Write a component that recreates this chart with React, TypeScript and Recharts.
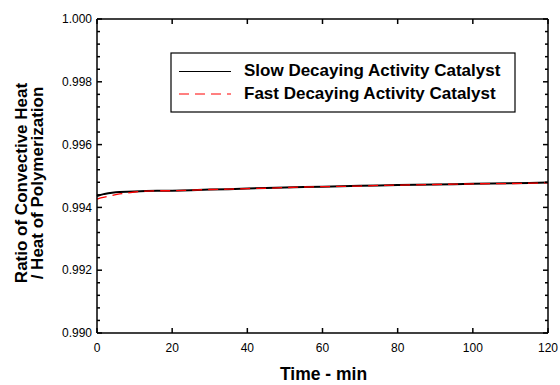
import { LineChart, Line, XAxis, YAxis } from 'recharts'

const times = [0, 1, 2, 3, 4, 5, 6, 8, 10, 13, 16, 20, 25, 30, 35, 40, 45, 50, 55, 60, 65, 70, 75, 80, 85, 90, 95, 100, 105, 110, 115, 120]

const slowDecay = [
  0.99436, 0.99440, 0.99443, 0.99445, 0.99447, 0.99448, 0.99449, 0.99450, 0.99451, 0.99452, 0.99453, 0.99453,
  0.99455, 0.99457, 0.99458, 0.99460, 0.99462, 0.99463, 0.99465, 0.99466, 0.99467, 0.99469, 0.99470, 0.99471,
  0.99472, 0.99473, 0.99474, 0.99475, 0.99476, 0.99477, 0.99478, 0.99479,
]

const fastDecay = [
  0.99426, 0.99430, 0.99433, 0.99436, 0.99438, 0.99441, 0.99443, 0.99446, 0.99449, 0.99452, 0.99453, 0.99453,
  0.99455, 0.99457, 0.99458, 0.99460, 0.99461, 0.99463, 0.99465, 0.99466, 0.99467, 0.99468, 0.99470, 0.99471,
  0.99472, 0.99473, 0.99474, 0.99475, 0.99476, 0.99476, 0.99477, 0.99478,
]

const xTicks = [0, 20, 40, 60, 80, 100, 120]
const yTicks = [0.99, 0.992, 0.994, 0.996, 0.998, 1.0]
const yMinorTicks = [
  0.9904, 0.9908, 0.9912, 0.9916, 0.9924, 0.9928, 0.9932, 0.9936, 0.9944, 0.9948, 0.9952, 0.9956,
  0.9964, 0.9968, 0.9972, 0.9976, 0.9984, 0.9988, 0.9992, 0.9996,
]

const data = times.map((t, i) => ({ time: t, slow: slowDecay[i], fast: fastDecay[i] }))
const allYTicks = [...yTicks, ...yMinorTicks].sort((a, b) => a - b)

// plot box, from the chart margins below
const MARGIN = { top: 19, right: 12, bottom: 0, left: 50 }
const Y_AXIS_W = 47
const X_AXIS_H = 52
const PLOT_LEFT = MARGIN.left + Y_AXIS_W
const PLOT_RIGHT = 560 - MARGIN.right
const PLOT_TOP = MARGIN.top
const PLOT_BOTTOM = 385 - MARGIN.bottom - X_AXIS_H

const FONT = '"Liberation Sans", Arial, sans-serif'
const frame = { stroke: '#000', strokeWidth: 1.5 }

const isMajor = (v: number) => yTicks.some((t) => Math.abs(t - v) < 1e-7)

function YTick(props: any) {
  const { x, y, payload } = props
  const v = payload.value as number
  const len = isMajor(v) ? 5 : 3
  return (
    <g>
      <line x1={PLOT_LEFT} x2={PLOT_LEFT + len} y1={y} y2={y} stroke="#000" strokeWidth={1.5} />
      <line x1={PLOT_RIGHT - len} x2={PLOT_RIGHT} y1={y} y2={y} stroke="#000" strokeWidth={1.5} />
      {isMajor(v) && (
        <text x={x} y={y} dy="0.35em" textAnchor="end" fontSize={12} fontFamily={FONT} fill="#000">
          {v.toFixed(3)}
        </text>
      )}
    </g>
  )
}

function XTick(props: any) {
  const { x, y, payload } = props
  return (
    <g>
      <line x1={x} x2={x} y1={PLOT_BOTTOM} y2={PLOT_BOTTOM - 5} stroke="#000" strokeWidth={1.5} />
      <line x1={x} x2={x} y1={PLOT_TOP} y2={PLOT_TOP + 5} stroke="#000" strokeWidth={1.5} />
      <text x={x} y={y} dy="0.71em" textAnchor="middle" fontSize={12} fontFamily={FONT} fill="#000">
        {payload.value}
      </text>
    </g>
  )
}

export default function App() {
  return (
    <div style={{ position: 'relative', width: 560, height: 385, background: '#fff' }}>
      <style>{'body{margin:0}'}</style>
      <LineChart width={560} height={385} data={data} margin={MARGIN}>
        <XAxis
          dataKey="time"
          type="number"
          domain={[0, 120]}
          ticks={xTicks}
          height={X_AXIS_H}
          tickSize={0}
          tickMargin={10}
          tick={<XTick />}
          tickLine={false}
          axisLine={frame}
        />
        <YAxis
          type="number"
          domain={[0.99, 1.0]}
          allowDataOverflow
          ticks={allYTicks}
          interval={0}
          width={Y_AXIS_W}
          tickSize={0}
          tickMargin={5}
          tick={<YTick />}
          tickLine={false}
          axisLine={frame}
        />
        <Line
          type="linear"
          dataKey="slow"
          stroke="#000"
          strokeWidth={2}
          dot={false}
          isAnimationActive={false}
        />
        <Line
          type="linear"
          dataKey="fast"
          stroke="#ff0000"
          strokeWidth={1.3}
          strokeDasharray="10 6"
          dot={false}
          isAnimationActive={false}
        />
      </LineChart>
      <svg
        width={560}
        height={385}
        style={{ position: 'absolute', left: 0, top: 0, pointerEvents: 'none' }}
        fontFamily={FONT}
        fontWeight="bold"
      >
        {/* top and right edges of the plot frame */}
        <line x1={PLOT_LEFT} x2={PLOT_RIGHT} y1={PLOT_TOP} y2={PLOT_TOP} stroke="#000" strokeWidth={1.5} />
        <line x1={PLOT_RIGHT} x2={PLOT_RIGHT} y1={PLOT_TOP} y2={PLOT_BOTTOM} stroke="#000" strokeWidth={1.5} />
        <rect x={171} y={53} width={344} height={59} fill="#fff" stroke="#000" strokeWidth={1.2} />
        <line x1={179} x2={231} y1={71.5} y2={71.5} stroke="#000" strokeWidth={1} />
        <line x1={179} x2={231} y1={94} y2={94} stroke="#ff0000" strokeWidth={1} strokeDasharray="10 6" />
        <text x={244} y={76} fontSize={17} fill="#000">Slow Decaying Activity Catalyst</text>
        <text x={244} y={98.5} fontSize={17} fill="#000">Fast Decaying Activity Catalyst</text>
        <text x={27} y={183} fontSize={17} fill="#000" textAnchor="middle" transform="rotate(-90 27 183)">
          Ratio of Convective Heat
        </text>
        <text x={42.5} y={183} fontSize={17} fill="#000" textAnchor="middle" transform="rotate(-90 42.5 183)">
          / Heat of Polymerization
        </text>
        <text x={323.5} y={380} fontSize={17.5} fill="#000" textAnchor="middle">Time - min</text>
      </svg>
    </div>
  )
}
